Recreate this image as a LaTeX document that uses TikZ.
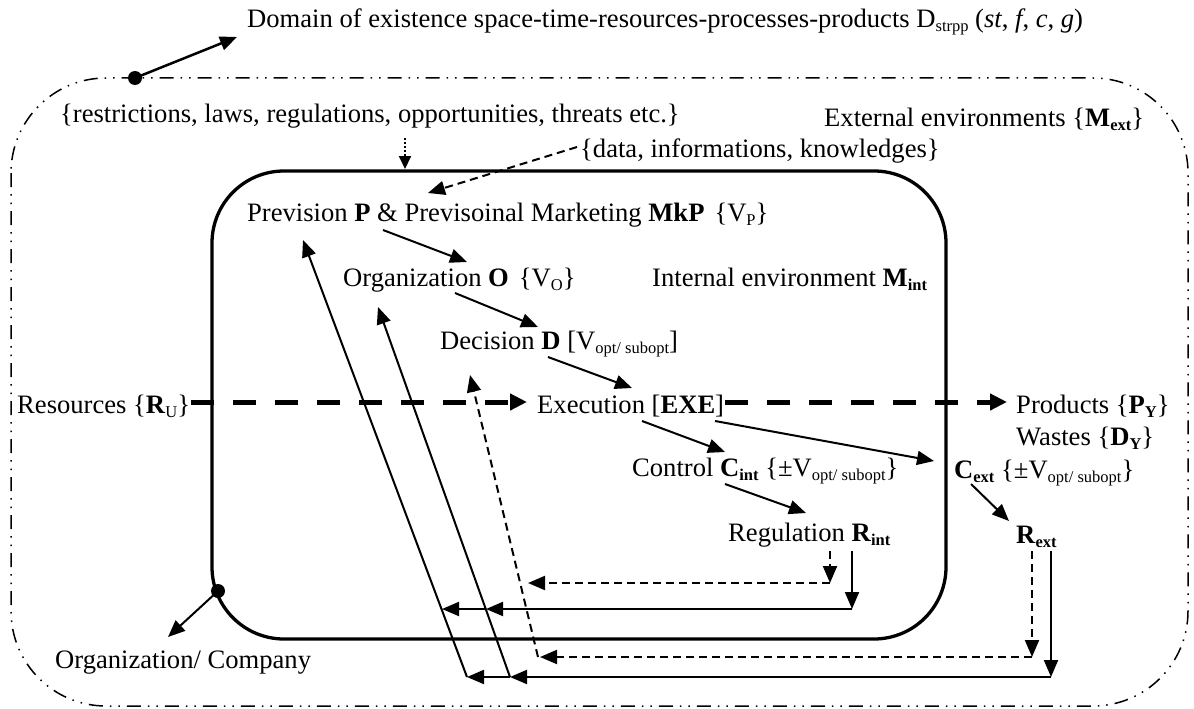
\documentclass[tikz,border=0pt]{standalone}
\usepackage{fontspec}
\setmainfont{Liberation Serif}
\usetikzlibrary{arrows.meta}
\newcommand{\sbs}[1]{\raisebox{-4pt}{\fontsize{16.5}{16.5}\selectfont #1}}
\begin{document}
\begin{tikzpicture}[x=1pt,y=-1pt,
  txt/.style={anchor=base west,inner sep=0pt,font=\fontsize{26.6}{30}\selectfont},
  tip/.style={-{Triangle[length=17pt,width=14pt]}},
  arr/.style={line width=2pt,tip},
  darr/.style={line width=2pt,tip,dash pattern=on 8pt off 5pt},
  thickdash/.style={line width=5pt,dash pattern=on 23pt off 19pt,-{Triangle[length=17pt,width=16pt]}},
  outerbox/.style={line width=1.5pt,dash pattern=on 14pt off 7pt on 1.5pt off 7pt on 1.5pt off 7pt,rounded corners=95pt},
  innerbox/.style={line width=3.3pt,rounded corners=72pt},
  dotc/.style={circle,fill=black,inner sep=0pt,minimum size=14pt}
]
\useasboundingbox (0,0) rectangle (1194,709);
% boxes
\draw[outerbox] (11,78) rectangle (1188,706);
\draw[innerbox] (212,171) rectangle (946,639);
% texts
\node[txt] (title) at (247,28) {Domain of existence space-time-resources-processes-products D\sbs{strpp} (\textit{st}, \textit{f}, \textit{c}, \textit{g})};
\node[txt] (restr) at (60,122) {\{restrictions, laws, regulations, opportunities, threats etc.\}};
\node[txt] (extenv) at (824,126) {External environments \{\textbf{M}\sbs{\textbf{ext}}\}};
\node[txt] (data) at (580,157) {\{data, informations, knowledges\}};
\node[txt] (prev) at (247,221) {Prevision \textbf{P} \& Previsoinal Marketing \textbf{MkP}\hspace{10pt}\{V\sbs{P}\}};
\node[txt] (org) at (343,286) {Organization \textbf{O}\hspace{10pt}\{V\sbs{O}\}};
\node[txt] (intenv) at (652,286) {Internal environment \textbf{M}\sbs{\textbf{int}}};
\node[txt] (dec) at (440,349) {Decision \textbf{D} [V\sbs{opt/ subopt}]};
\node[txt] (res) at (17,413) {Resources \{\textbf{R}\sbs{U}\}};
\node[txt] (exe) at (537,413) {Execution [\textbf{EXE}]};
\node[txt] (prod) at (1016,413) {Products \{\textbf{P}\sbs{\textbf{Y}}\}};
\node[txt] (waste) at (1016,445) {Wastes \{\textbf{D}\sbs{\textbf{Y}}\}};
\node[txt] (ctrl) at (632,476) {Control \textbf{C}\sbs{\textbf{int}} \{±V\sbs{opt/ subopt}\}};
\node[txt] (cext) at (954,478) {\textbf{C}\sbs{\textbf{ext}} \{±V\sbs{opt/ subopt}\}};
\node[txt] (reg) at (728,541) {Regulation \textbf{R}\sbs{\textbf{int}}};
\node[txt] (rext) at (1016,543) {\textbf{R}\sbs{\textbf{ext}}};
\node[txt] (comp) at (55,668) {Organization/ Company};
% dots
\node[dotc] (d1) at (135,78) {};
\node[dotc] (d2) at (218,591) {};
\coordinate (t1) at (237,37);
\coordinate (t2) at (168,637);
\draw[arr,line width=2.5pt] (d1.center) -- (t1);
\draw[arr] (d2.center) -- (t2);
% inputs
\coordinate (dotA) at (405,138);
\coordinate (dotB) at (405,169);
\draw[line width=2pt,dotted,-{Triangle[length=13pt,width=12pt]}] (dotA) -- (dotB);
\coordinate (daA) at (577,147);
\coordinate (daB) at (428,193);
\draw[darr] (daA) -- (daB);
% chain
\coordinate (po1) at (383,230); \coordinate (po2) at (467,262);
\coordinate (od1) at (455,293); \coordinate (od2) at (538,327);
\coordinate (de1) at (548,357); \coordinate (de2) at (632,388);
\coordinate (ec1) at (642,421); \coordinate (ec2) at (725,452);
\coordinate (ex1) at (715,421); \coordinate (ex2) at (934,461);
\coordinate (cr1) at (725,484); \coordinate (cr2) at (806,513);
\coordinate (cx1) at (971,484); \coordinate (cx2) at (1009,521);
\draw[arr] (po1) -- (po2);
\draw[arr] (od1) -- (od2);
\draw[arr] (de1) -- (de2);
\draw[arr] (ec1) -- (ec2);
\draw[arr] (ex1) -- (ex2);
\draw[arr] (cr1) -- (cr2);
\draw[arr] (cx1) -- (cx2);
% thick dashed flows
\coordinate (r1) at (191,402); \coordinate (r2) at (527,402);
\coordinate (p1) at (725,402); \coordinate (p2) at (1007,402);
\draw[thickdash] (r1) -- (r2);
\draw[thickdash] (p1) -- (p2);
% feedback
\coordinate (ri1) at (830,551); \coordinate (ri2) at (830,583); \coordinate (ri3) at (528,583);
\coordinate (rs1) at (852,551); \coordinate (rs2) at (852,609); \coordinate (rs3) at (486,609); \coordinate (rs4) at (442,609);
\coordinate (xe1) at (1032,551); \coordinate (xe2) at (1032,657); \coordinate (xe3) at (540,657);
\coordinate (xs1) at (1051,551); \coordinate (xs2) at (1051,677); \coordinate (xs3) at (510,677); \coordinate (xs4) at (467,677);
\coordinate (upP) at (303,240); \coordinate (upO) at (378,307); \coordinate (dsb) at (538,657); \coordinate (upD) at (470,375);
\draw[darr] (ri1) -- (ri2);
\draw[darr] (ri2) -- (ri3);
\draw[arr] (rs1) -- (rs2);
\draw[arr] (rs2) -- (rs3);
\draw[arr] (rs3) -- (rs4);
\draw[darr] (xe1) -- (xe2);
\draw[darr] (xe2) -- (xe3);
\draw[arr] (xs1) -- (xs2);
\draw[arr] (xs2) -- (xs3);
\draw[arr] (xs3) -- (xs4);
\draw[arr] (xs4) -- (upP);
\draw[arr] (xs3) -- (upO);
\draw[darr] (dsb) -- (upD);
\end{tikzpicture}
\end{document}
